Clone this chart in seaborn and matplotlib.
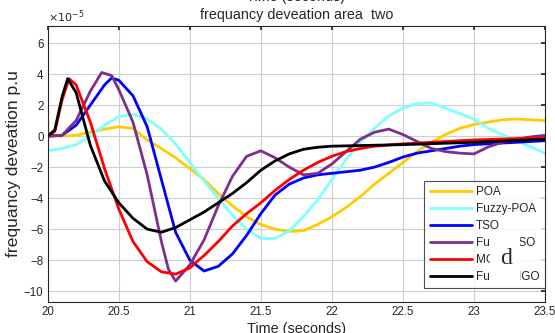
import numpy as np
import pandas as pd
import matplotlib
matplotlib.use("Agg")
import matplotlib.pyplot as plt
from matplotlib.patches import Rectangle
import seaborn as sns

# ---- data (values in units of 1e-5 p.u.) ----
poa_t = [20.0, 20.1, 20.2, 20.3, 20.4, 20.5, 20.6, 20.7, 20.8, 20.9, 21.0, 21.1, 21.2, 21.3, 21.4, 21.5,
         21.6, 21.7, 21.8, 21.9, 22.0, 22.1, 22.2, 22.3, 22.4, 22.5, 22.6, 22.7, 22.8, 22.9, 23.0, 23.1,
         23.2, 23.3, 23.4, 23.5]
poa_v = [0.0, 0.0, 0.05, 0.25, 0.45, 0.6, 0.5, -0.25, -0.8, -1.4, -2.1, -2.8, -3.7, -4.5, -5.2, -5.7,
         -6.0, -6.15, -6.1, -5.7, -5.2, -4.6, -3.9, -3.1, -2.4, -1.7, -1.0, -0.4, 0.1, 0.5, 0.75, 0.9,
         1.05, 1.1, 1.05, 1.0]

fpoa_t = [20.0, 20.1, 20.2, 20.3, 20.4, 20.5, 20.6, 20.7, 20.8, 20.9, 21.0, 21.1, 21.2, 21.3, 21.4, 21.5,
          21.6, 21.7, 21.8, 21.9, 22.0, 22.1, 22.2, 22.3, 22.4, 22.5, 22.6, 22.7, 22.8, 22.9, 23.0, 23.1,
          23.2, 23.3, 23.4, 23.5]
fpoa_v = [-0.95, -0.8, -0.55, 0.0, 0.7, 1.25, 1.4, 1.1, 0.45, -0.5, -1.7, -2.9, -4.0, -5.1, -6.0, -6.6,
          -6.6, -6.1, -5.2, -4.1, -2.8, -1.5, -0.4, 0.5, 1.3, 1.8, 2.1, 2.15, 1.8, 1.45, 1.1, 0.5,
          0.1, -0.3, -0.7, -1.1]

tso_t = [20.0, 20.1, 20.2, 20.3, 20.4, 20.45, 20.5, 20.6, 20.7, 20.8, 20.9, 21.0, 21.1, 21.2, 21.3, 21.4,
         21.5, 21.6, 21.7, 21.8, 21.9, 22.0, 22.1, 22.2, 22.3, 22.4, 22.5, 22.6, 22.7, 22.8, 22.9, 23.0,
         23.2, 23.5]
tso_v = [0.0, 0.05, 0.7, 2.0, 3.3, 3.75, 3.6, 2.6, 0.6, -2.8, -6.2, -8.0, -8.7, -8.4, -7.6, -6.4,
         -5.0, -3.8, -3.1, -2.7, -2.5, -2.4, -2.3, -2.2, -2.0, -1.7, -1.35, -1.1, -0.95, -0.8, -0.65, -0.55,
         -0.45, -0.3]

ftso_t = [20.0, 20.1, 20.2, 20.3, 20.38, 20.45, 20.5, 20.6, 20.7, 20.8, 20.85, 20.9, 21.0, 21.1, 21.2,
          21.3, 21.4, 21.5, 21.6, 21.7, 21.8, 21.9, 22.0, 22.1, 22.2, 22.3, 22.4, 22.5, 22.6, 22.7, 22.8,
          22.9, 23.0, 23.1, 23.2, 23.3, 23.4, 23.5]
ftso_v = [0.0, 0.05, 1.0, 2.9, 4.1, 3.9, 3.0, 0.9, -2.5, -6.8, -8.6, -9.35, -8.3, -6.7, -4.5,
          -2.6, -1.3, -0.95, -1.4, -2.0, -2.5, -2.4, -1.8, -1.0, -0.2, 0.25, 0.45, 0.1, -0.35, -0.8, -1.0,
          -1.1, -1.15, -0.7, -0.4, -0.2, -0.05, 0.05]

mgo_t = [20.0, 20.05, 20.1, 20.15, 20.2, 20.3, 20.4, 20.5, 20.6, 20.7, 20.8, 20.9, 21.0, 21.1, 21.2,
         21.3, 21.4, 21.5, 21.6, 21.7, 21.8, 21.9, 22.0, 22.1, 22.2, 22.3, 22.5, 22.7, 23.0, 23.5]
mgo_v = [0.0, 0.3, 2.3, 3.7, 3.3, 0.9, -2.1, -4.7, -6.8, -8.1, -8.75, -8.9, -8.5, -7.7, -6.8,
         -5.8, -5.0, -4.3, -3.5, -2.8, -2.2, -1.7, -1.3, -1.0, -0.8, -0.65, -0.5, -0.4, -0.25, -0.1]

fmgo_t = [20.0, 20.05, 20.1, 20.14, 20.2, 20.3, 20.4, 20.5, 20.6, 20.7, 20.8, 20.9, 21.0, 21.1, 21.2,
          21.3, 21.4, 21.5, 21.6, 21.7, 21.8, 21.9, 22.0, 22.5, 23.0, 23.5]
fmgo_v = [0.0, 0.4, 2.5, 3.7, 2.8, -0.6, -2.9, -4.3, -5.3, -6.0, -6.2, -5.9, -5.4, -4.9, -4.3,
          -3.7, -3.0, -2.2, -1.6, -1.15, -0.85, -0.72, -0.65, -0.55, -0.4, -0.2]

labels = ["POA", "Fuzzy-POA", "TSO", "Fuzzy-TSO", "MGO", "Fuzzy-MGO"]
colors = ["#FFCC00", "#80FFFF", "#0000FF", "#7E2F8E", "#FF0000", "#000000"]
x_ticks = [20, 20.5, 21, 21.5, 22, 22.5, 23, 23.5]
x_tick_labels = ["20", "20.5", "21", "21.5", "22", "22.5", "23", "23.5"]
y_ticks = [-10, -8, -6, -4, -2, 0, 2, 4, 6]

series = [(poa_t, poa_v), (fpoa_t, fpoa_v), (tso_t, tso_v),
          (ftso_t, ftso_v), (mgo_t, mgo_v), (fmgo_t, fmgo_v)]

sns.set_theme(style="whitegrid")
plt.rcParams['font.family'] = ['Liberation Sans', 'DejaVu Sans']

fig = plt.figure(figsize=(5.55, 3.33), dpi=100)
ax = fig.add_axes([0.086, 0.093, 0.896, 0.829])

for (t, v), lab, c in zip(series, labels, colors):
    df = pd.DataFrame({"t": t, "v": v})
    sns.lineplot(data=df, x="t", y="v", ax=ax, color=c, linewidth=2.0, label=lab,
                 estimator=None, sort=False)

ax.set_xlim(20, 23.5)
ax.set_ylim(-10.7, 7.1)
ax.set_xticks(x_ticks)
ax.set_xticklabels(x_tick_labels)
ax.set_yticks(y_ticks)
ax.tick_params(axis="both", labelsize=8.3, colors="#262626", direction="in", length=3,
               top=True, right=True, pad=3)
ax.grid(True, color="#cfcfcf", linewidth=0.8)
for s in ax.spines.values():
    s.set_color("#262626")
    s.set_linewidth(0.8)
ax.set_facecolor("white")

ax.set_xlabel("Time (seconds)", fontsize=10.4, labelpad=3)
ax.set_ylabel("frequancy deveation p.u", fontsize=12.6, labelpad=2)
ax.set_title("frequancy deveation area  two", fontsize=10.4, pad=5)
ax.text(0.0, 1.005, r"$\times10^{-5}$", transform=ax.transAxes, fontsize=8,
        ha="left", va="bottom", color="#262626")
fig.text(0.533, 0.988, "Time (seconds)", fontsize=10.4, ha="center", va="bottom")

leg = ax.legend(loc="lower right", bbox_to_anchor=(1.0, 0.05), fontsize=8.5, frameon=True,
                fancybox=False, handlelength=3.6, handletextpad=0.35, borderpad=0.45,
                labelspacing=0.42, borderaxespad=0.0)
leg.get_frame().set_edgecolor("#262626")
leg.get_frame().set_linewidth(0.8)

# overlay mark covering part of the legend text
fig.add_artist(Rectangle((490 / 555, 1 - 286 / 333), 30 / 555, 50 / 333,
                         transform=fig.transFigure, facecolor="white", edgecolor="none",
                         zorder=10))
fig.text(506 / 555, 1 - 258 / 333, "d", fontsize=17, family="Liberation Serif",
         ha="center", va="center", zorder=11)

fig.savefig("out.png", dpi=100)
